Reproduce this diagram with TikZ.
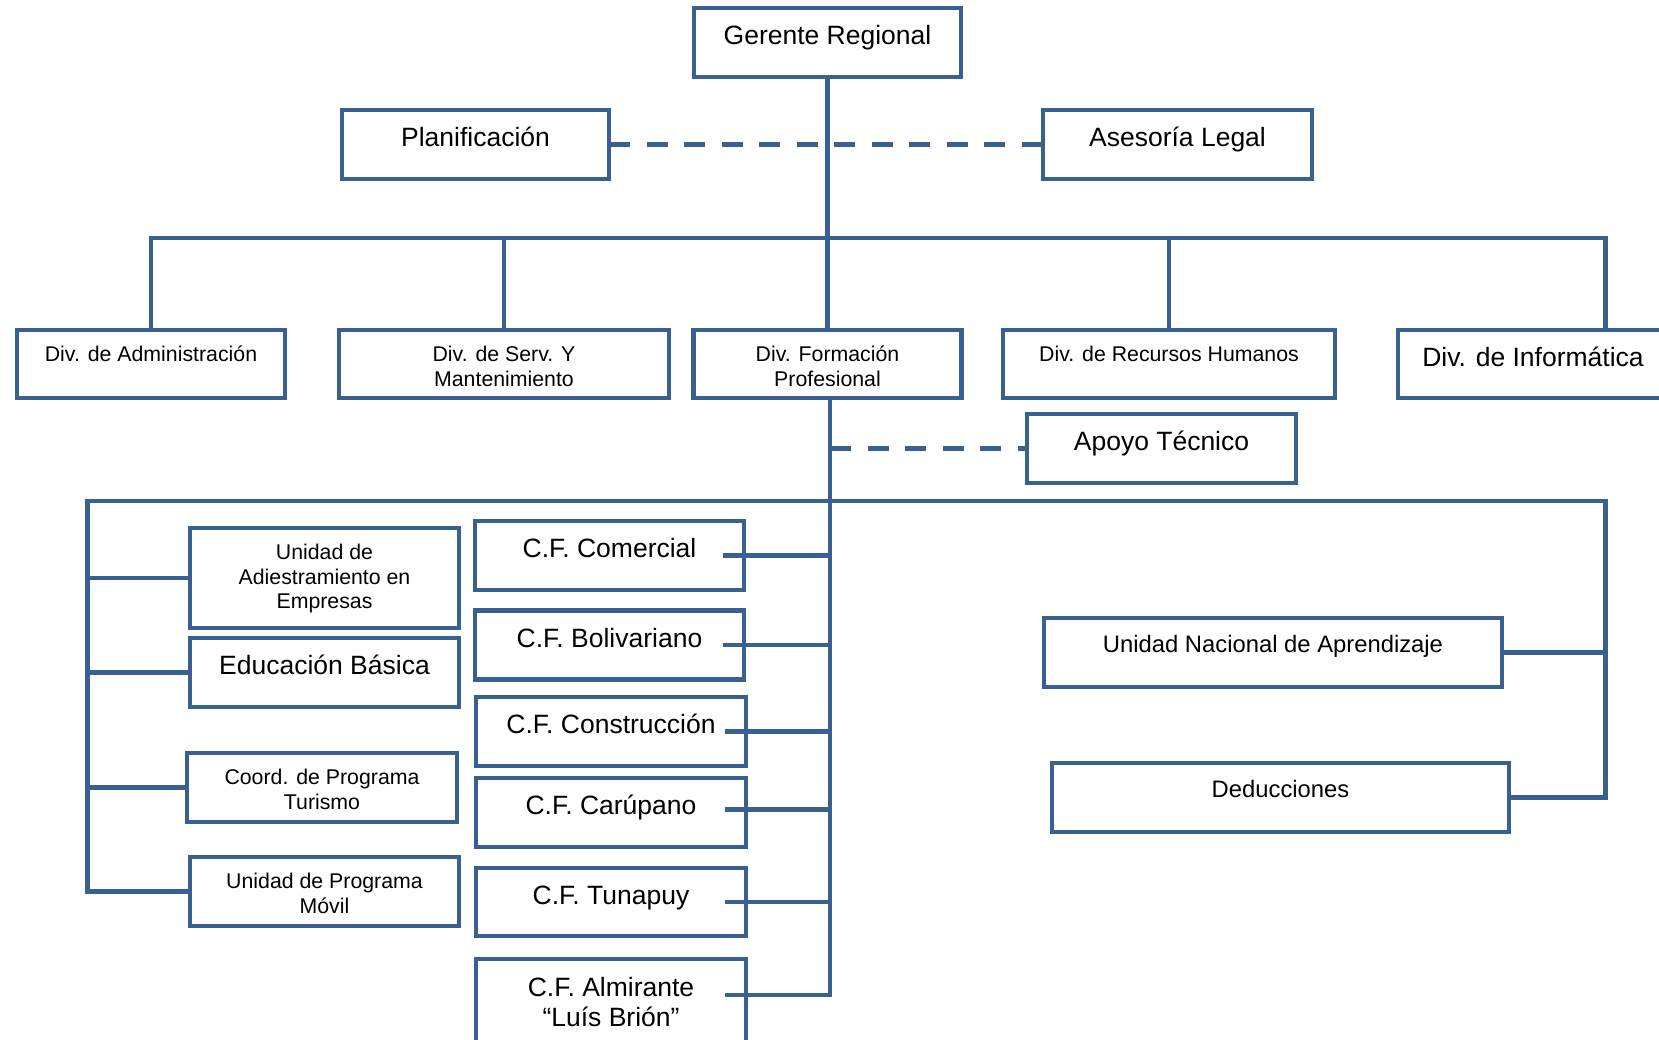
\documentclass[tikz,border=0pt]{standalone}
\usepackage{fontspec}
\setmainfont{Liberation Sans}
\definecolor{lc}{HTML}{386090}
\newcommand\myst{\rule{0pt}{24pt}}
\begin{document}
\begin{tikzpicture}[x=1pt,y=-1pt,
  box/.style={draw=lc, line width=4.5pt, rectangle, inner sep=0pt, outer sep=0pt},
  conn/.style={draw=lc, line width=4.5pt, line cap=rect},
  dconn/.style={draw=lc, line width=4.5pt, dash pattern=on 21pt off 16.5pt},
  big/.style={font=\fontsize{26.5}{30}\selectfont, anchor=north, inner sep=0pt, align=center},
  small/.style={font=\fontsize{21.3}{24.5}\selectfont, anchor=north, inner sep=0pt, align=center},
  med/.style={font=\fontsize{23.8}{27.4}\selectfont, anchor=north, inner sep=0pt, align=center}]
\useasboundingbox (0,0) rectangle (1659,1040);
\clip (0,0) rectangle (1659,1040);

% boxes
\node[box, minimum width=267pt, minimum height=69pt] (gr) at (827.5,42.5) {};
\node[box, minimum width=267pt, minimum height=69pt] (pl) at (475.5,144.5) {};
\node[box, minimum width=269pt, minimum height=69pt] (as) at (1177.5,144.5) {};
\node[box, minimum width=268pt, minimum height=68pt] (adm) at (151,364) {};
\node[box, minimum width=330pt, minimum height=68pt] (srv) at (504,364) {};
\node[box, minimum width=268pt, minimum height=68pt] (fp) at (827.5,364) {};
\node[box, minimum width=332pt, minimum height=68pt] (rh) at (1169,364) {};
\node[box, minimum width=415pt, minimum height=68pt] (inf) at (1605.6,364) {};
\node[box, minimum width=269pt, minimum height=69pt] (ap) at (1161.5,448.5) {};
\node[box, minimum width=269pt, minimum height=100pt] (ua) at (324.5,578) {};
\node[box, minimum width=269pt, minimum height=69pt] (eb) at (324.5,672.5) {};
\node[box, minimum width=270pt, minimum height=69pt] (ct) at (322,787.5) {};
\node[box, minimum width=269pt, minimum height=69pt] (um) at (324.5,891.5) {};
\node[box, minimum width=269pt, minimum height=69pt] (cfc) at (609.5,555.5) {};
\node[box, minimum width=269pt, minimum height=69pt] (cfb) at (609.5,645) {};
\node[box, minimum width=270pt, minimum height=69pt] (cfo) at (611,731.5) {};
\node[box, minimum width=270pt, minimum height=69pt] (cfp) at (611,812.5) {};
\node[box, minimum width=270pt, minimum height=68pt] (cft) at (611,902) {};
\node[box, minimum width=270pt, minimum height=100pt] (cfa) at (611,1009) {};
\node[box, minimum width=458pt, minimum height=69pt] (un) at (1273,652.5) {};
\node[box, minimum width=457pt, minimum height=69pt] (ded) at (1280.5,797.5) {};

% texts
\node[big] (grt) at ([yshift=-12.3pt]gr.north) {\myst Gerente Regional};
\node[big] (plt) at ([yshift=-12.3pt]pl.north) {\myst Planificación};
\node[big] (ast) at ([yshift=-12.3pt]as.north) {\myst Asesoría Legal};
\node[small] (admt) at ([yshift=-7.5pt]adm.north) {\myst Div. de Administración};
\node[small] (srvt) at ([yshift=-7.5pt]srv.north) {\myst Div. de Serv. Y\\Mantenimiento};
\node[small] (fpt) at ([yshift=-7.5pt]fp.north) {\myst Div. Formación\\Profesional};
\node[small] (rht) at ([yshift=-7.5pt]rh.north) {\myst Div. de Recursos Humanos};
\node[big] (inft) at (1533,342.5) {\myst Div. de Informática};
\node[big] (apt) at ([yshift=-12.3pt]ap.north) {\myst Apoyo Técnico};
\node[small] (uat) at ([yshift=-7.5pt]ua.north) {\myst Unidad de\\Adiestramiento en\\Empresas};
\node[big] (ebt) at ([yshift=-12pt]eb.north) {\myst Educación Básica};
\node[small] (ctt) at ([yshift=-7.5pt]ct.north) {\myst Coord. de Programa\\Turismo};
\node[small] (umt) at ([yshift=-7.5pt]um.north) {\myst Unidad de Programa\\Móvil};
\node[big] (cfct) at ([yshift=-12.3pt]cfc.north) {\myst C.F. Comercial};
\node[big] (cfbt) at ([yshift=-12.3pt]cfb.north) {\myst C.F. Bolivariano};
\node[big] (cfot) at ([yshift=-12.3pt]cfo.north) {\myst C.F. Construcción};
\node[big] (cfpt) at ([yshift=-12.3pt]cfp.north) {\myst C.F. Carúpano};
\node[big] (cftt) at ([yshift=-12pt]cft.north) {\myst C.F. Tunapuy};
\node[big] (cfat) at ([yshift=-13pt]cfa.north) {\myst C.F. Almirante\\“Luís Brión”};
\node[med] (unt) at ([yshift=-10.7pt]un.north) {\myst Unidad Nacional de Aprendizaje};
\node[med] (dedt) at ([yshift=-10.7pt]ded.north) {\myst Deducciones};

% upper connectors
\coordinate (hub1) at (827.5,238);
\draw[conn] (gr.south) -- (fp.north);
\draw[conn] (adm.north) |- (hub1) -| (inf.north);
\draw[conn] (srv.north) -- (srv.north |- hub1);
\draw[conn] (rh.north) -- (rh.north |- hub1);
\draw[dconn] (pl.east) -- (as.west);

% lower connectors
\coordinate (L) at (87.3,501);
\coordinate (R) at (1605.6,501);
\coordinate (V) at ([xshift=2.5pt]fp.south);
\coordinate (ae) at ([yshift=14pt]cfa.east);
\coordinate (pe) at ([yshift=3pt]cfp.east);
\coordinate (apx) at (ap.west -| V);
\draw[dconn] (apx) -- (ap.west);
\draw[conn] (V) -- (ae -| V);
\draw[conn] (um.west) -| (L) -- (R) |- (ded.east);
\foreach \n in {ua,eb,ct}
  \draw[conn] (\n.west) -- (\n.west -| L);
\draw[conn] (un.east) -- (un.east -| R);
\foreach \n in {cfc,cfb,cfo,cft,pe,ae}
  \draw[conn] ([xshift=-19pt]\n.east) -- (\n.east -| V);
\end{tikzpicture}
\end{document}
